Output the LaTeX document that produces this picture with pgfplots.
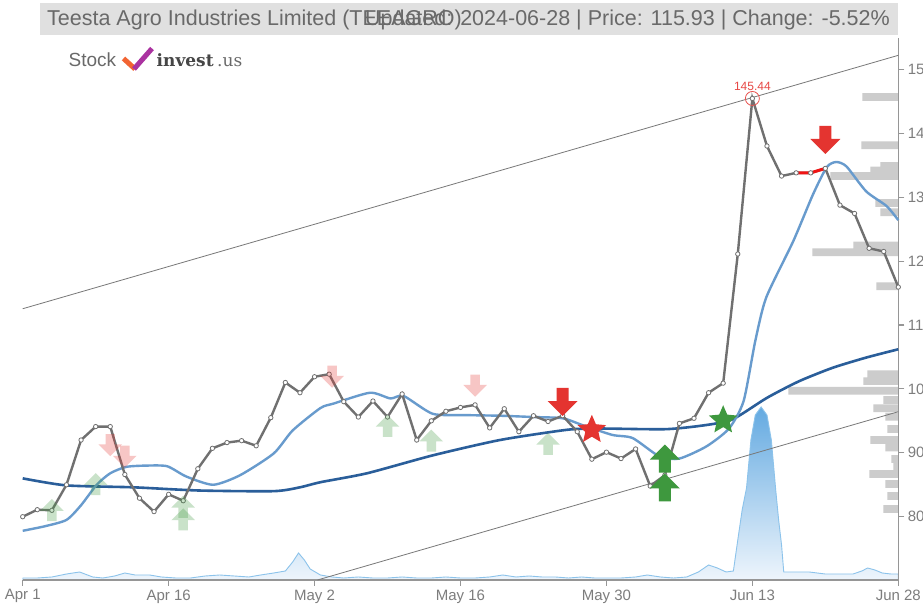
\documentclass[border=0pt]{standalone}
\usepackage{fontspec}
\setmainfont{Liberation Sans}
\newfontfamily\logoslab{DejaVu Serif}
\usepackage{pgfplots}
\usepackage{pgfplotstable}
\pgfplotsset{compat=1.18}

\definecolor{pricegray}{RGB}{112,112,112}
\definecolor{smalight}{RGB}{104,155,205}
\definecolor{smadark}{RGB}{42,94,154}
\definecolor{axgray}{RGB}{150,150,150}
\definecolor{txtgray}{RGB}{125,125,125}
\definecolor{titletext}{RGB}{105,105,105}
\definecolor{mred}{RGB}{228,52,48}
\definecolor{mgreen}{RGB}{62,152,62}
\definecolor{profgray}{RGB}{204,204,204}
\definecolor{volline}{RGB}{140,195,235}
\definecolor{voltop}{RGB}{100,170,225}
\definecolor{volbot}{RGB}{238,245,252}
\definecolor{titlebg}{RGB}{224,224,224}
\definecolor{chan}{RGB}{120,120,120}

\pgfdeclareplotmark{uparrow}{%
  \pgfpathmoveto{\pgfpoint{0pt}{\pgfplotmarksize}}%
  \pgfpathlineto{\pgfpoint{1.07\pgfplotmarksize}{-0.07\pgfplotmarksize}}%
  \pgfpathlineto{\pgfpoint{0.43\pgfplotmarksize}{-0.07\pgfplotmarksize}}%
  \pgfpathlineto{\pgfpoint{0.43\pgfplotmarksize}{-\pgfplotmarksize}}%
  \pgfpathlineto{\pgfpoint{-0.43\pgfplotmarksize}{-\pgfplotmarksize}}%
  \pgfpathlineto{\pgfpoint{-0.43\pgfplotmarksize}{-0.07\pgfplotmarksize}}%
  \pgfpathlineto{\pgfpoint{-1.07\pgfplotmarksize}{-0.07\pgfplotmarksize}}%
  \pgfpathclose
  \pgfusepathqfill}
\pgfdeclareplotmark{downarrow}{%
  \pgfpathmoveto{\pgfpoint{0pt}{-\pgfplotmarksize}}%
  \pgfpathlineto{\pgfpoint{1.07\pgfplotmarksize}{0.07\pgfplotmarksize}}%
  \pgfpathlineto{\pgfpoint{0.43\pgfplotmarksize}{0.07\pgfplotmarksize}}%
  \pgfpathlineto{\pgfpoint{0.43\pgfplotmarksize}{\pgfplotmarksize}}%
  \pgfpathlineto{\pgfpoint{-0.43\pgfplotmarksize}{\pgfplotmarksize}}%
  \pgfpathlineto{\pgfpoint{-0.43\pgfplotmarksize}{0.07\pgfplotmarksize}}%
  \pgfpathlineto{\pgfpoint{-1.07\pgfplotmarksize}{0.07\pgfplotmarksize}}%
  \pgfpathclose
  \pgfusepathqfill}
\pgfdeclareplotmark{fstar}{%
  \pgfpathmoveto{\pgfpointpolar{90}{\pgfplotmarksize}}%
  \pgfpathlineto{\pgfpointpolar{126}{0.46\pgfplotmarksize}}%
  \pgfpathlineto{\pgfpointpolar{162}{\pgfplotmarksize}}%
  \pgfpathlineto{\pgfpointpolar{198}{0.46\pgfplotmarksize}}%
  \pgfpathlineto{\pgfpointpolar{234}{\pgfplotmarksize}}%
  \pgfpathlineto{\pgfpointpolar{270}{0.46\pgfplotmarksize}}%
  \pgfpathlineto{\pgfpointpolar{306}{\pgfplotmarksize}}%
  \pgfpathlineto{\pgfpointpolar{342}{0.46\pgfplotmarksize}}%
  \pgfpathlineto{\pgfpointpolar{18}{\pgfplotmarksize}}%
  \pgfpathlineto{\pgfpointpolar{54}{0.46\pgfplotmarksize}}%
  \pgfpathclose
  \pgfusepathqfill}

\pgfplotstableread{
i v
0 80.0
1 81.1
2 81.0
3 85.0
4 92.0
5 94.1
6 94.1
7 86.6
8 82.9
9 80.8
10 83.5
11 82.5
12 87.5
13 90.7
14 91.6
15 91.9
16 91.1
17 95.5
18 101.0
19 99.4
20 101.9
21 102.3
22 98.0
23 95.6
24 98.1
25 95.6
26 99.2
27 92.0
28 95.0
29 96.5
30 97.1
31 97.5
32 93.9
33 96.9
34 93.3
35 95.8
36 94.9
37 95.8
38 93.3
39 89.0
40 90.1
41 89.1
42 90.6
43 84.8
44 86.5
45 94.6
46 95.4
47 99.4
48 100.9
49 121.1
50 145.44
51 138.0
52 133.3
53 133.8
54 133.8
55 134.5
56 128.75
57 127.45
58 122.0
59 121.5
60 115.93
}\pricedata

\pgfplotstableread{
w v
36 145.68
37 138.11
18 134.88
28 134.18
68 133.32
23 129.09
18 127.64
45 122.44
86 121.38
22 116.06
31 102.30
35 101.21
110 99.70
15 98.26
25 96.96
13 95.65
11 93.72
28 92.00
13 90.83
7 89.03
5 87.93
29 86.68
13 85.12
11 83.24
15 81.20
}\profdata

\pgfplotstableread{
i h
0 2
1 2
2 3
3 6
3.9 8
4.8 3
5.5 2
6.3 4
7 7
7.7 5
8.7 5
9.5 3
10.5 2
11.5 2
12.5 4
13.5 5
14.5 4
15.5 3
16.3 5
17.2 7
18 9
18.5 18
18.9 27
19.3 20
19.7 11
20.4 5
21.2 3
22 2
23 3
24 2
25 2
26 3
27 2
28 2
29 3
30 2
31 2
32 3
32.9 5
33.8 3
34.7 4
35.6 3
36.5 3
37.4 2
38.3 3
39.2 2
40 2
41 2
42 3
42.8 5
43.7 3
44.6 2
45.5 3
46.3 8
47 15
47.6 12
48.2 8
48.7 9
49.0 40
49.3 70
49.6 92
49.9 140
50.2 165
50.6 173
51.0 165
51.3 140
51.6 90
51.8 60
52.0 35
52.15 8
52.8 8
53.9 8
55 6
56 6
56.9 6
57.5 9
57.9 12
58.4 10
58.9 7
59.5 6
60 6
}\voldata

\begin{document}
\begin{tikzpicture}[x=1pt,y=1pt]
\fill[white] (0,0) rectangle (923,607);
% title
\fill[titlebg] (40,572) rectangle (898,604);
\node[anchor=base west, inner sep=0, text=titletext, font=\fontsize{21.5}{21.5}\selectfont] at (47,581) {Teesta Agro Industries Limited (TEEAGRO)};
\node[anchor=base east, inner sep=0, text=titletext, font=\fontsize{21.5}{21.5}\selectfont] at (890,581) {Updated: 2024-06-28 | Price: 115.93 | Change: -5.52\%};
% logo
\node[anchor=base west, inner sep=0, text=titletext, font=\fontsize{19}{19}\selectfont] at (68.5,540.3) {Stock};
\draw[line width=5pt, color={rgb,255:red,242;green,100;blue,50}] (123.5,548.5) -- (135,538);
\draw[line width=5pt, color={rgb,255:red,170;green,50;blue,160}] (134,538) -- (152,558.5);
\node[anchor=base west, inner sep=0, text={rgb,255:red,70;green,70;blue,70}, font=\logoslab\bfseries\fontsize{17}{17}\selectfont] at (156.5,540.3) {invest};
\node[anchor=base west, inner sep=0, text=titletext, font=\logoslab\fontsize{17}{17}\selectfont] at (217,540.3) {.us};

% volume profile
\begin{axis}[at={(22.7pt,27pt)}, anchor=south west, scale only axis, width=875.6pt, height=542pt,
  xbar, x dir=reverse, xmin=0, xmax=875.6, ymin=70.1, ymax=154.9, bar width=1.2, hide axis]
\addplot[fill=profgray, draw=none] table[x=w, y=v] {\profdata};
\end{axis}

% volume
\begin{axis}[at={(22.7pt,27pt)}, anchor=south west, scale only axis, width=875.6pt, height=542pt,
  xmin=0, xmax=60, ymin=0, ymax=542, hide axis]
\addplot[draw=volline, line width=0.9pt, top color=voltop, bottom color=volbot] table[x=i, y=h] {\voldata} \closedcycle;
\end{axis}

% main
\begin{axis}[at={(22.7pt,27pt)}, anchor=south west, scale only axis, width=875.6pt, height=542pt,
  xmin=0, xmax=60, ymin=70.1, ymax=154.9,
  axis x line*=bottom, axis y line*=right,
  axis line style={draw=axgray, line width=1.3pt, -},
  tick style={draw=axgray, line width=1.1pt},
  tick align=outside, major tick length=6pt,
  xtick={0,10,20,30,40,50,60},
  xticklabels={Apr 1,Apr 16,May 2,May 16,May 30,Jun 13,Jun 28},
  ytick={80,90,100,110,120,130,140,150},
  /pgf/number format/assume math mode=true,
  tick label style={font=\fontsize{15}{15}\selectfont, text=txtgray},
  clip=false]
% channel
\addplot[draw=chan, line width=0.8pt] coordinates {(0,112.54) (60,152.19)};
\addplot[draw=chan, line width=0.8pt] coordinates {(20.2,70.1) (60,96.43)};
% long SMA
\addplot[draw=smadark, line width=2.6pt, smooth, tension=0.4] coordinates {
(0,86.0)(3,84.9)(7.6,84.6)(12.1,84.1)(17.2,84.0)(19,84.6)(20.4,85.4)(23.6,86.8)(28.1,89.6)(32.7,92.0)(37.3,93.6)(39.5,93.8)(44.1,93.7)(47,94.4)(48.7,95.3)(51,98.6)(53.2,101.2)(55.5,103.3)(57.8,104.9)(60,106.2)};
% short SMA
\addplot[draw=smalight, line width=2.4pt, smooth, tension=0.4] coordinates {
(0,77.8)(1.5,78.5)(3,79.5)(4,81.8)(5.07,85.0)(6,86.8)(7.1,87.8)(8.5,88.0)(9.9,87.9)(11.2,86.3)(13.05,85.0)(14.9,86.5)(17.2,89.9)(18.5,93.5)(20.4,97.0)(21.3,97.7)(23.8,99.4)(25.2,98.5)(26.1,98.9)(28.1,96.1)(30.4,95.9)(32.7,95.8)(35,95.6)(37,95.4)(38.4,94.3)(40.4,92.8)(41.8,92.3)(43.65,89.4)(45,89.1)(46.85,91.0)(48.4,93.8)(49.4,98.1)(50.2,107.5)(50.95,114.3)(52.8,123.1)(54.15,130.4)(55.1,134.7)(55.75,135.5)(56.45,134.8)(57.8,130.9)(59.2,128.6)(60,126.4)};
% price
\addplot[draw=pricegray, line width=2.4pt] table[x=i, y=v] {\pricedata};
\addplot[draw={rgb,255:red,240;green,20;blue,20}, line width=3pt] coordinates {(53,133.8)(54,133.8)(55,134.5)};
\addplot[only marks, mark=*, mark size=2.2pt, mark options={fill=white, draw=pricegray, line width=0.8pt}] table[x=i, y=v] {\pricedata};
% peak
\addplot[only marks, mark=o, mark size=7pt, mark options={draw=mred!85, line width=0.8pt}] coordinates {(50,145.44)};
\node[anchor=south, inner sep=0, yshift=8pt, text=mred!90, font=\fontsize{12}{12}\selectfont] at (axis cs:50,145.44) {145.44};
% light signals
\addplot[only marks, mark=uparrow, mark size=11pt, mark options={fill=mgreen, fill opacity=0.28, draw=none}] coordinates {
(2,81.05)(5,85.1)(11,81.56)(11,79.6)(25,94.2)(28,91.9)(36,91.4)};
\addplot[only marks, mark=downarrow, mark size=11pt, mark options={fill=mred, fill opacity=0.28, draw=none}] coordinates {
(6,91.2)(7,89.4)(21.2,101.9)(31,100.5)};
% strong signals
\addplot[only marks, mark=downarrow, mark size=14pt, mark options={fill=mred, draw=none}] coordinates {(37,97.95)(55,138.95)};
\addplot[only marks, mark=uparrow, mark size=14pt, mark options={fill=mgreen, draw=none}] coordinates {(44,89.1)(44,84.6)};
\addplot[only marks, mark=fstar, mark size=15pt, mark options={fill=mred, draw=none}] coordinates {(39,93.6)};
\addplot[only marks, mark=fstar, mark size=15pt, mark options={fill=mgreen, draw=none}] coordinates {(48,95.1)};
\end{axis}
\pgfresetboundingbox
\path[use as bounding box] (0,0) rectangle (923,607);
\end{tikzpicture}
\end{document}
